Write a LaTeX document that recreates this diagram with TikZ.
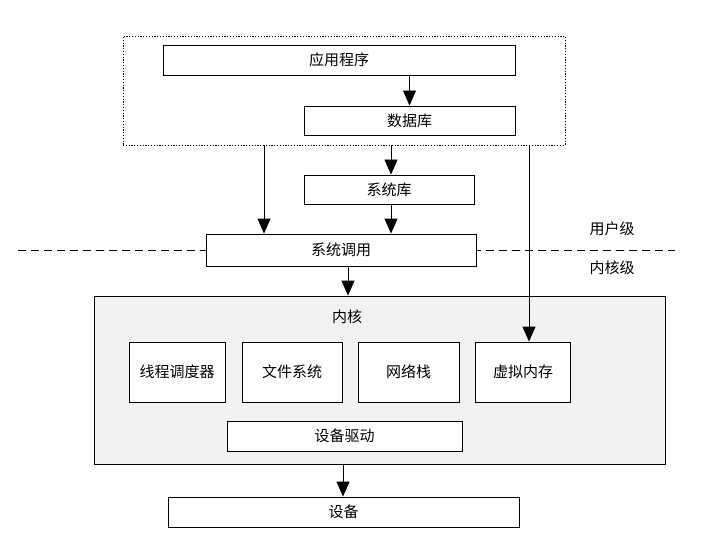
\documentclass[tikz,border=0pt]{standalone}
\usepackage{fontspec}
\newfontfamily\cjk{Noto Sans CJK SC}
\usetikzlibrary{arrows.meta}
\tikzset{
  box/.style={draw=black, line width=0.9pt, fill=white, inner sep=0pt, font=\cjk\fontsize{15}{17}\selectfont},
  lbl/.style={inner sep=0pt, font=\cjk\fontsize{15}{17}\selectfont},
  arr/.style={line width=0.9pt, -{Triangle[length=15pt,width=13pt]}},
}
\begin{document}
\begin{tikzpicture}[x=1pt,y=-1pt]
\useasboundingbox (0,0) rectangle (703,540);
% dashed separator
\coordinate (dl) at (18,250);
\coordinate (dr) at (675,250);
\draw[line width=0.9pt, dash pattern=on 8pt off 5pt] (dl) -- (dr);
% user space
\node[draw=black, line width=0.9pt, dash pattern=on 1.2pt off 1.6pt, minimum width=442pt, minimum height=109pt, inner sep=0pt] (outer) at (344,90.5) {};
\node[box, minimum width=352pt, minimum height=30pt] (app) at (339,60) {应用程序};
\node[box, minimum width=211pt, minimum height=29pt] (db) at (409.5,120.5) {数据库};
\node[box, minimum width=170pt, minimum height=29pt] (syslib) at (389,189.5) {系统库};
\node[box, minimum width=270pt, minimum height=32pt] (syscall) at (341,250) {系统调用};
\node[lbl] (user) at (612,229) {用户级};
\node[lbl] (kern) at (612,268) {内核级};
% kernel
\node[draw=black, line width=0.9pt, fill=black!5, minimum width=571pt, minimum height=168pt, inner sep=0pt] (kernel) at (379.5,380) {};
\node[lbl] (ktitle) at (347,317) {内核};
\node[box, minimum width=96pt, minimum height=60pt] (thread) at (177,372) {线程调度器};
\node[box, minimum width=100pt, minimum height=60pt] (fs) at (292,372) {文件系统};
\node[box, minimum width=101pt, minimum height=60pt] (net) at (408.5,372) {网络栈};
\node[box, minimum width=95pt, minimum height=60pt] (vm) at (523,372) {虚拟内存};
\node[box, minimum width=235pt, minimum height=30pt] (drv) at (344.5,436) {设备驱动};
\node[box, minimum width=351pt, minimum height=30pt] (dev) at (343.5,512) {设备};
% connectors
\coordinate (lx) at (264,0);
\coordinate (mx) at (391,0);
\coordinate (rx) at (529,0);
\coordinate (kx) at (348,0);
\coordinate (dx) at (343,0);
\draw[arr] (db.north |- app.south) -- (db.north);
\draw[arr] (mx |- outer.south) -- (mx |- syslib.north);
\draw[arr] (mx |- syslib.south) -- (mx |- syscall.north);
\draw[arr] (lx |- outer.south) -- (lx |- syscall.north);
\draw[arr] (rx |- outer.south) -- (rx |- vm.north);
\draw[arr] (kx |- syscall.south) -- (kx |- kernel.north);
\draw[arr] (dx |- kernel.south) -- (dx |- dev.north);
\end{tikzpicture}
\end{document}
